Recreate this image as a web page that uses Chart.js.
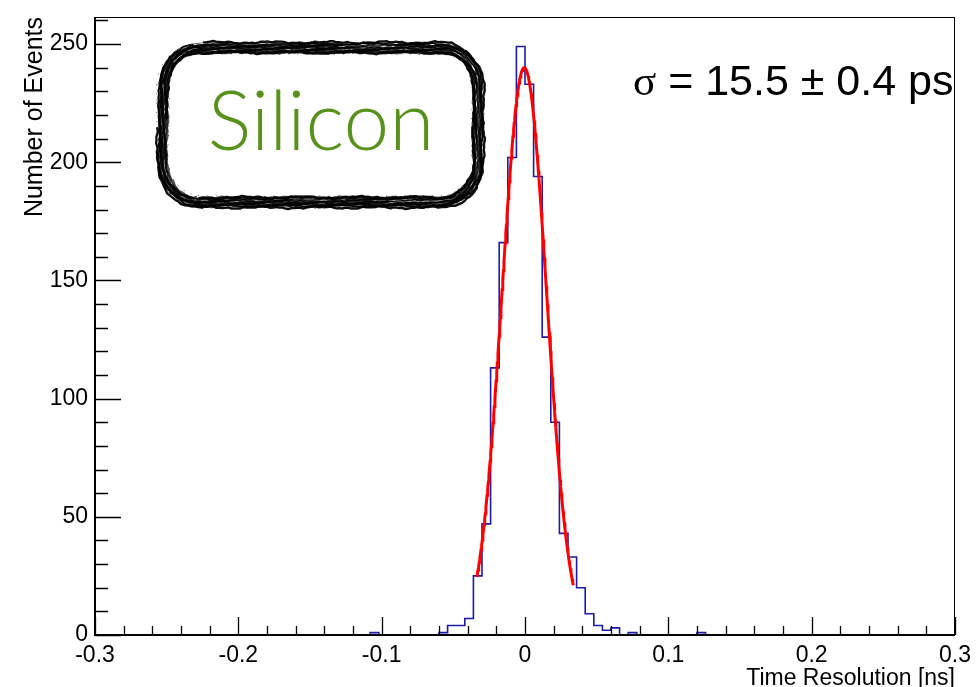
<!DOCTYPE html>
<html>
<head>
<meta charset="utf-8">
<script src="https://cdn.jsdelivr.net/npm/chart.js@4/dist/chart.umd.min.js"></script>
<style>
  html, body { margin: 0; padding: 0; background: #fff; }
  #wrap { width: 977px; height: 687px; }
</style>
</head>
<body>
<div id="wrap"><canvas id="c" width="977" height="687"></canvas></div>
<script>
// Histogram definition: 100 bins of 6 ps between -0.3 and 0.3 ns
const axisMin = -0.3;
const axisMax = 0.3;
const binWidth = 0.006;
// counts of the filled bins, starting at the bin whose low edge is firstBinLow
const firstBinLow = -0.108;
const binCounts = [
  1, 0, 0, 0, 0, 0, 0, 0,          // -0.108 .. -0.060
  1, 4, 4, 7, 25, 47, 113, 166,    // -0.060 .. -0.012
  202, 249, 233, 194, 126, 90, 43, 33, // -0.012 .. 0.036
  20, 9, 4, 2, 3, 0, 1, 0,         // 0.036 .. 0.084
  0, 0, 0, 0, 0, 0, 1              // 0.084 .. 0.126
];

// Gaussian fit result
const fitConstant = 240;
const fitMean = -0.0005;     // ns
const fitSigmaPs = 15.5;     // ps
const fitSigmaErrPs = 0.4;   // ps
const fitRange = [-0.0336, 0.0337];

// Axis ticks
const yMax = 261.45;
const yMajorStep = 50, yMinorStep = 10;
const xMajorStep = 0.1, xMinorStep = 0.02;

const FONT = '"Liberation Sans", Arial, Helvetica, sans-serif';

// step outline points: value of each bin sits at its low edge
function histogramPoints() {
  const pts = [{x: axisMin, y: 0}];
  binCounts.forEach((c, i) => {
    pts.push({x: +(firstBinLow + i * binWidth).toFixed(4), y: c});
  });
  const lastHigh = +(firstBinLow + binCounts.length * binWidth).toFixed(4);
  pts.push({x: lastHigh, y: 0});
  pts.push({x: axisMax, y: 0});
  return pts;
}

// fit function evaluated across its range
function fitPoints() {
  const s = fitSigmaPs / 1000;
  const n = 160;
  const pts = [];
  for (let i = 0; i <= n; i++) {
    const x = fitRange[0] + (fitRange[1] - fitRange[0]) * i / n;
    pts.push({x, y: fitConstant * Math.exp(-0.5 * Math.pow((x - fitMean) / s, 2))});
  }
  return pts;
}

// deterministic wobble for the brush strokes
function wobble(t, k) {
  return Math.sin(t * 0.11 + k * 1.9) * 0.8 + Math.sin(t * 0.37 + k * 4.3) * 0.5 + Math.sin(t * 1.3 + k * 7.1) * 0.35;
}

// point on a rounded rectangle outline, parameterised by arc length s
function roundRectPoint(x0, y0, x1, y1, r, s) {
  const w = x1 - x0 - 2 * r, h = y1 - y0 - 2 * r, q = Math.PI * r / 2;
  const segs = [w, q, h, q, w, q, h, q];
  const total = segs.reduce((a, b) => a + b, 0);
  s = ((s % total) + total) % total;
  let i = 0;
  while (s > segs[i]) { s -= segs[i]; i++; }
  const ang = s / r;
  switch (i) {
    case 0: return [x0 + r + s, y0, 0, -1];
    case 1: return [x1 - r + r * Math.sin(ang), y0 + r - r * Math.cos(ang), Math.sin(ang), -Math.cos(ang)];
    case 2: return [x1, y0 + r + s, 1, 0];
    case 3: return [x1 - r + r * Math.cos(ang), y1 - r + r * Math.sin(ang), Math.cos(ang), Math.sin(ang)];
    case 4: return [x1 - r - s, y1, 0, 1];
    case 5: return [x0 + r - r * Math.sin(ang), y1 - r + r * Math.cos(ang), -Math.sin(ang), Math.cos(ang)];
    case 6: return [x0, y1 - r - s, -1, 0];
    default: return [x0 + r - r * Math.cos(ang), y0 + r - r * Math.sin(ang), -Math.cos(ang), -Math.sin(ang)];
  }
}

// hand-drawn rounded frame around the detector label
function brushBox(ctx, x0, y0, x1, y1, r) {
  const total = 2 * (x1 - x0 - 2 * r) + 2 * (y1 - y0 - 2 * r) + 2 * Math.PI * r;
  ctx.save();
  ctx.strokeStyle = '#000';
  ctx.lineCap = 'round';
  ctx.lineJoin = 'round';
  const nStrokes = 18;
  for (let k = 0; k < nStrokes; k++) {
    const inset = 5 - (k % 9) * 1.25 + (k >= 9 ? 0.6 : 0);
    const width = 0.8 + ((k * 7) % 5) * 0.5;
    ctx.globalAlpha = 0.55 + ((k * 3) % 4) * 0.13;
    ctx.lineWidth = width;
    ctx.beginPath();
    const start = k * 97.3;
    const len = total * (0.82 + ((k * 5) % 4) * 0.06);
    let first = true;
    for (let s = 0; s <= len; s += 3) {
      const [px, py, nx, ny] = roundRectPoint(x0, y0, x1, y1, r, start + s);
      const d = inset + wobble(s + start, k);
      const X = px + nx * d, Y = py + ny * d;
      if (first) { ctx.moveTo(X, Y); first = false; } else ctx.lineTo(X, Y);
    }
    ctx.stroke();
  }
  // dry-brush speckle along the outline
  ctx.globalAlpha = 0.6;
  for (let s = 0; s < total; s += 2.3) {
    const [px, py, nx, ny] = roundRectPoint(x0, y0, x1, y1, r, s);
    const d = 6.5 * Math.sin(s * 12.9898);
    ctx.fillRect(px + nx * d - 0.5, py + ny * d - 0.5, 1, 1);
  }
  ctx.restore();
}

const decorations = {
  id: 'decorations',
  beforeDraw(chart) {
    const ctx = chart.ctx;
    ctx.save();
    ctx.fillStyle = '#fff';
    ctx.fillRect(0, 0, chart.width, chart.height);
    ctx.restore();
  },
  afterDatasetsDraw(chart) {
    const {ctx, chartArea: a, scales: {x, y}} = chart;
    ctx.save();
    ctx.strokeStyle = '#000';
    // frame
    ctx.lineWidth = 1;
    ctx.strokeRect(a.left + 0.5, a.top + 0.5, a.right - a.left - 1, a.bottom - a.top);
    // axis lines
    ctx.lineWidth = 2;
    ctx.beginPath();
    ctx.moveTo(a.left, a.top);
    ctx.lineTo(a.left, a.bottom);
    ctx.lineTo(a.right, a.bottom);
    ctx.stroke();
    // y ticks
    ctx.lineWidth = 1.3;
    ctx.beginPath();
    for (let v = 0; v <= yMax + 1e-9; v += yMinorStep) {
      const py = Math.round(y.getPixelForValue(v)) + 0.5;
      const len = (v % yMajorStep === 0) ? 26 : 13;
      ctx.moveTo(a.left, py);
      ctx.lineTo(a.left + len, py);
    }
    // x ticks
    const nMinor = Math.round((axisMax - axisMin) / xMinorStep);
    for (let i = 0; i <= nMinor; i++) {
      const v = axisMin + i * xMinorStep;
      const px = Math.round(x.getPixelForValue(v)) + 0.5;
      const len = (i % 5 === 0) ? 18 : 9;
      ctx.moveTo(px, a.bottom);
      ctx.lineTo(px, a.bottom - len);
    }
    ctx.stroke();
    ctx.restore();
  },
  afterDraw(chart) {
    const ctx = chart.ctx;
    brushBox(ctx, 163, 48, 478, 202, 38);
    ctx.save();
    ctx.fillStyle = '#58921c';
    ctx.font = '300 82px Lato, "Open Sans", sans-serif';
    ctx.textAlign = 'center';
    ctx.textBaseline = 'alphabetic';
    ctx.fillText('Silicon', 321, 150);

    // fit result label
    ctx.fillStyle = '#000';
    ctx.textAlign = 'left';
    const size = 43;
    ctx.font = size + 'px "Liberation Serif", "Times New Roman", serif';
    let tx = 633;
    const ty = 95;
    ctx.fillText('σ', tx, ty);
    tx += ctx.measureText('σ').width;
    ctx.font = size + 'px ' + FONT;
    ctx.fillText(' = ' + fitSigmaPs.toFixed(1) + ' ± ' + fitSigmaErrPs.toFixed(1) + ' ps', tx, ty);
    ctx.restore();
  }
};

// fixed frame: the scales keep the exact sizes set here, without extra label overhang
function fixScale(size, horizontal) {
  return s => {
    if (horizontal) s.height = size; else s.width = size;
    s.paddingLeft = 0; s.paddingRight = 0; s.paddingTop = 0; s.paddingBottom = 0;
  };
}

new Chart(document.getElementById('c'), {
  type: 'line',
  data: {
    datasets: [
      {
        label: 'histogram',
        data: histogramPoints(),
        stepped: 'before',
        borderColor: '#1c1ca6',
        borderWidth: 1.6,
        pointRadius: 0,
        fill: false,
        order: 2
      },
      {
        label: 'fit',
        data: fitPoints(),
        borderColor: '#ff0000',
        borderWidth: 3,
        pointRadius: 0,
        tension: 0,
        fill: false,
        order: 1
      }
    ]
  },
  options: {
    responsive: false,
    animation: false,
    devicePixelRatio: 1,
    layout: { padding: { top: 17, right: 22, left: 0, bottom: 0 } },
    plugins: { legend: { display: false }, tooltip: { enabled: false } },
    scales: {
      x: {
        type: 'linear',
        min: axisMin,
        max: axisMax,
        grid: { display: false, drawTicks: false, tickLength: 0 },
        border: { display: false },
        ticks: {
          stepSize: xMajorStep,
          padding: 7,
          color: '#000',
          font: { family: FONT, size: 23 },
          maxRotation: 0,
          autoSkip: false,
          callback: v => Math.abs(v) < 1e-9 ? '0' : (+v).toFixed(1)
        },
        title: {
          display: true,
          text: 'Time Resolution [ns]',
          align: 'end',
          color: '#000',
          font: { family: FONT, size: 23, lineHeight: 1 },
          padding: { top: 0, bottom: -3 }
        },
        afterFit: fixScale(52, true)
      },
      y: {
        type: 'linear',
        min: 0,
        max: yMax,
        grid: { display: false, drawTicks: false, tickLength: 0 },
        border: { display: false },
        ticks: {
          stepSize: yMajorStep,
          includeBounds: false,
          padding: 7,
          color: '#000',
          font: { family: FONT, size: 23 }
        },
        title: {
          display: true,
          text: 'Number of Events',
          align: 'end',
          color: '#000',
          font: { family: FONT, size: 25, lineHeight: 1.2 },
          padding: { top: 20, bottom: 0 }
        },
        afterFit: fixScale(95, false)
      }
    }
  },
  plugins: [decorations]
});
</script>
</body>
</html>
